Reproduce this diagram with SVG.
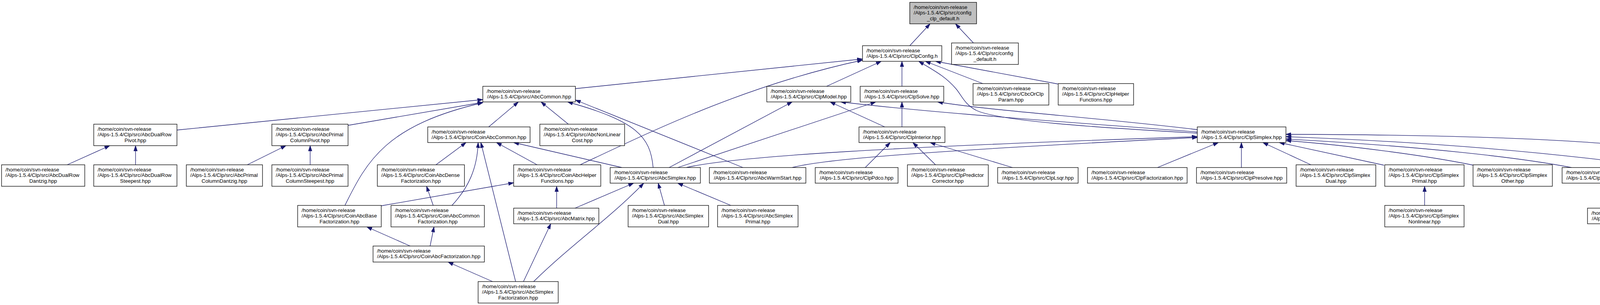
<svg xmlns="http://www.w3.org/2000/svg" width="4531" height="781" viewBox="0 0 4531 781">
<style>
.n rect{fill:#fff;stroke:#000;stroke-width:1.3}
.root rect{fill:#bfbfbf}
text{font-family:"Liberation Sans",Arial,Helvetica,sans-serif;font-size:13.3px;fill:#000}
.c{text-anchor:middle}
.e path{fill:none;stroke:#191970;stroke-width:1.3;marker-end:url(#a)}
</style>
<defs>
<marker id="a" markerUnits="userSpaceOnUse" markerWidth="14" markerHeight="10" viewBox="0 0 14 10" refX="13.5" refY="5" orient="auto"><path d="M0,0.5 L13.5,5 L0,9.5 z" fill="#191970" stroke="#191970" stroke-width="1"/></marker>
</defs>
<rect width="4531" height="781" fill="#fff"/>
<g class="e" id="edges">
<path d="M2329,117 L2381,61"/>
<path d="M2492,110 L2446,61"/>
<path d="M1473,227 L2208,151"/>
<path d="M1485,422 C1650,345 1900,220 2208,154"/>
<path d="M2116,221 L2256,157"/>
<path d="M2309,221 L2309,157"/>
<path d="M3065,341 C2800,326 2560,310 2500,283 C2470,268 2462,245 2448,228 C2420,195 2390,180 2352,157"/>
<path d="M2516,214 L2369,157"/>
<path d="M2708,215 L2395,157"/>
<path d="M453,333 L1236,255"/>
<path d="M891,321 L1236,262"/>
<path d="M883,526 C940,410 990,320 1236,263"/>
<path d="M1251,325 L1327,261"/>
<path d="M1455,318 L1385,261"/>
<path d="M1672,429 C1665,350 1630,310 1453,261"/>
<path d="M1902,429 L1473,256"/>
<path d="M1116,422 L1193,365"/>
<path d="M1157,526 C1200,480 1222,430 1224,365"/>
<path d="M1320,721 L1231,365"/>
<path d="M1375,422 L1271,365"/>
<path d="M1592,429 L1315,365"/>
<path d="M1109,526 L1092,477"/>
<path d="M976,527 L1315,468"/>
<path d="M1425,533 L1425,477"/>
<path d="M1050,630 L939,581"/>
<path d="M1101,630 L1111,581"/>
<path d="M1261,721 L1147,671"/>
<path d="M1340,721 L1410,573"/>
<path d="M1366,721 C1470,620 1560,560 1648,469"/>
<path d="M1472,533 L1622,469"/>
<path d="M1701,526 L1685,469"/>
<path d="M1871,526 L1735,469"/>
<path d="M1713,429 L2028,261"/>
<path d="M1735,429 L2242,261"/>
<path d="M1757,429 C1880,400 2300,375 3065,350"/>
<path d="M2028,429 C2100,410 2300,390 3065,352"/>
<path d="M3065,338 C2700,310 2400,290 2152,261"/>
<path d="M3065,332 C2800,300 2550,285 2400,261"/>
<path d="M2265,325 L2125,261"/>
<path d="M2309,325 L2309,261"/>
<path d="M2215,429 L2279,365"/>
<path d="M2395,422 L2337,365"/>
<path d="M2592,429 L2381,365"/>
<path d="M2963,429 L3119,365"/>
<path d="M3178,429 L3178,365"/>
<path d="M3356,422 L3233,365"/>
<path d="M3543,423 L3275,365"/>
<path d="M3772,423 C3650,398 3450,372 3292,360"/>
<path d="M4023,429 C3900,405 3650,375 3292,356"/>
<path d="M4207,423 C4000,395 3700,365 3292,350"/>
<path d="M4438,526 C4440,460 4420,420 4360,400 C4200,362 3800,345 3292,344"/>
<path d="M4402,526 L4343,477"/>
<path d="M4215,533 L4274,477"/>
<path d="M3647,526 L3647,477"/>
<path d="M172,422 L281,373"/>
<path d="M347,422 L347,373"/>
<path d="M633,422 L732,373"/>
<path d="M794,422 L794,373"/>
</g>
<g id="n0" class="n root"><rect x="2329" y="6" width="171" height="55"/><text x="2339" y="22.5">/home/coin/svn-release</text><text x="2339" y="37">/Alps-1.5.4/Clp/src/config</text><text class="c" x="2414.5" y="51.5">_clp_default.h</text></g>
<g id="n1" class="n"><rect x="2208" y="117" width="203" height="40"/><text x="2218" y="133.5">/home/coin/svn-release</text><text class="c" x="2309.5" y="148">/Alps-1.5.4/Clp/src/ClpConfig.h</text></g>
<g id="n2" class="n"><rect x="2436" y="110" width="171" height="55"/><text x="2446" y="126.5">/home/coin/svn-release</text><text x="2446" y="141">/Alps-1.5.4/Clp/src/config</text><text class="c" x="2521.5" y="155.5">_default.h</text></g>
<g id="n3" class="n"><rect x="1236" y="221" width="237" height="40"/><text x="1246" y="237.5">/home/coin/svn-release</text><text class="c" x="1354.5" y="252">/Alps-1.5.4/Clp/src/AbcCommon.hpp</text></g>
<g id="n4" class="n"><rect x="1963" y="221" width="215" height="40"/><text x="1973" y="237.5">/home/coin/svn-release</text><text class="c" x="2070.5" y="252">/Alps-1.5.4/Clp/src/ClpModel.hpp</text></g>
<g id="n5" class="n"><rect x="2202" y="221" width="214" height="40"/><text x="2212" y="237.5">/home/coin/svn-release</text><text class="c" x="2309" y="252">/Alps-1.5.4/Clp/src/ClpSolve.hpp</text></g>
<g id="n6" class="n"><rect x="2491" y="214" width="194" height="55"/><text x="2501" y="230.5">/home/coin/svn-release</text><text x="2501" y="245">/Alps-1.5.4/Clp/src/CbcOrClp</text><text class="c" x="2588" y="259.5">Param.hpp</text></g>
<g id="n7" class="n"><rect x="2709" y="214" width="193" height="55"/><text x="2719" y="230.5">/home/coin/svn-release</text><text x="2719" y="245">/Alps-1.5.4/Clp/src/ClpHelper</text><text class="c" x="2805.5" y="259.5">Functions.hpp</text></g>
<g id="n8" class="n"><rect x="240" y="318" width="213" height="55"/><text x="250" y="334.5">/home/coin/svn-release</text><text x="250" y="349">/Alps-1.5.4/Clp/src/AbcDualRow</text><text class="c" x="346.5" y="363.5">Pivot.hpp</text></g>
<g id="n9" class="n"><rect x="696" y="318" width="195" height="55"/><text x="706" y="334.5">/home/coin/svn-release</text><text x="706" y="349">/Alps-1.5.4/Clp/src/AbcPrimal</text><text class="c" x="793.5" y="363.5">ColumnPivot.hpp</text></g>
<g id="n10" class="n"><rect x="1095" y="325" width="262" height="40"/><text x="1105" y="341.5">/home/coin/svn-release</text><text class="c" x="1226" y="356">/Alps-1.5.4/Clp/src/CoinAbcCommon.hpp</text></g>
<g id="n11" class="n"><rect x="1382" y="318" width="217" height="55"/><text x="1392" y="334.5">/home/coin/svn-release</text><text x="1392" y="349">/Alps-1.5.4/Clp/src/AbcNonLinear</text><text class="c" x="1490.5" y="363.5">Cost.hpp</text></g>
<g id="n12" class="n"><rect x="2199" y="325" width="220" height="40"/><text x="2209" y="341.5">/home/coin/svn-release</text><text class="c" x="2309" y="356">/Alps-1.5.4/Clp/src/ClpInterior.hpp</text></g>
<g id="n13" class="n"><rect x="3065" y="325" width="227" height="40"/><text x="3075" y="341.5">/home/coin/svn-release</text><text class="c" x="3178.5" y="356">/Alps-1.5.4/Clp/src/ClpSimplex.hpp</text></g>
<g id="n14" class="n"><rect x="4" y="422" width="213" height="55"/><text x="14" y="438.5">/home/coin/svn-release</text><text x="14" y="453">/Alps-1.5.4/Clp/src/AbcDualRow</text><text class="c" x="110.5" y="467.5">Dantzig.hpp</text></g>
<g id="n15" class="n"><rect x="240" y="422" width="213" height="55"/><text x="250" y="438.5">/home/coin/svn-release</text><text x="250" y="453">/Alps-1.5.4/Clp/src/AbcDualRow</text><text class="c" x="346.5" y="467.5">Steepest.hpp</text></g>
<g id="n16" class="n"><rect x="477" y="422" width="195" height="55"/><text x="487" y="438.5">/home/coin/svn-release</text><text x="487" y="453">/Alps-1.5.4/Clp/src/AbcPrimal</text><text class="c" x="574.5" y="467.5">ColumnDantzig.hpp</text></g>
<g id="n17" class="n"><rect x="696" y="422" width="195" height="55"/><text x="706" y="438.5">/home/coin/svn-release</text><text x="706" y="453">/Alps-1.5.4/Clp/src/AbcPrimal</text><text class="c" x="793.5" y="467.5">ColumnSteepest.hpp</text></g>
<g id="n18" class="n"><rect x="966" y="422" width="223" height="55"/><text x="976" y="438.5">/home/coin/svn-release</text><text x="976" y="453">/Alps-1.5.4/Clp/src/CoinAbcDense</text><text class="c" x="1077.5" y="467.5">Factorization.hpp</text></g>
<g id="n19" class="n"><rect x="1315" y="422" width="223" height="55"/><text x="1325" y="438.5">/home/coin/svn-release</text><text x="1325" y="453">/Alps-1.5.4/Clp/src/CoinAbcHelper</text><text class="c" x="1426.5" y="467.5">Functions.hpp</text></g>
<g id="n20" class="n"><rect x="1562" y="429" width="231" height="40"/><text x="1572" y="445.5">/home/coin/svn-release</text><text class="c" x="1677.5" y="460">/Alps-1.5.4/Clp/src/AbcSimplex.hpp</text></g>
<g id="n21" class="n"><rect x="1816" y="429" width="247" height="40"/><text x="1826" y="445.5">/home/coin/svn-release</text><text class="c" x="1939.5" y="460">/Alps-1.5.4/Clp/src/AbcWarmStart.hpp</text></g>
<g id="n22" class="n"><rect x="2087" y="429" width="212" height="40"/><text x="2097" y="445.5">/home/coin/svn-release</text><text class="c" x="2193" y="460">/Alps-1.5.4/Clp/src/ClpPdco.hpp</text></g>
<g id="n23" class="n"><rect x="2323" y="422" width="207" height="55"/><text x="2333" y="438.5">/home/coin/svn-release</text><text x="2333" y="453">/Alps-1.5.4/Clp/src/ClpPredictor</text><text class="c" x="2426.5" y="467.5">Corrector.hpp</text></g>
<g id="n24" class="n"><rect x="2554" y="429" width="206" height="40"/><text x="2564" y="445.5">/home/coin/svn-release</text><text class="c" x="2657" y="460">/Alps-1.5.4/Clp/src/ClpLsqr.hpp</text></g>
<g id="n25" class="n"><rect x="2784" y="429" width="255" height="40"/><text x="2794" y="445.5">/home/coin/svn-release</text><text class="c" x="2911.5" y="460">/Alps-1.5.4/Clp/src/ClpFactorization.hpp</text></g>
<g id="n26" class="n"><rect x="3063" y="429" width="231" height="40"/><text x="3073" y="445.5">/home/coin/svn-release</text><text class="c" x="3178.5" y="460">/Alps-1.5.4/Clp/src/ClpPresolve.hpp</text></g>
<g id="n27" class="n"><rect x="3318" y="422" width="204" height="55"/><text x="3328" y="438.5">/home/coin/svn-release</text><text x="3328" y="453">/Alps-1.5.4/Clp/src/ClpSimplex</text><text class="c" x="3420" y="467.5">Dual.hpp</text></g>
<g id="n28" class="n"><rect x="3545" y="422" width="203" height="55"/><text x="3555" y="438.5">/home/coin/svn-release</text><text x="3555" y="453">/Alps-1.5.4/Clp/src/ClpSimplex</text><text class="c" x="3646.5" y="467.5">Primal.hpp</text></g>
<g id="n29" class="n"><rect x="3771" y="422" width="203" height="55"/><text x="3781" y="438.5">/home/coin/svn-release</text><text x="3781" y="453">/Alps-1.5.4/Clp/src/ClpSimplex</text><text class="c" x="3872.5" y="467.5">Other.hpp</text></g>
<g id="n30" class="n"><rect x="3999" y="429" width="185" height="40"/><text x="4009" y="445.5">/home/coin/svn-release</text><text class="c" x="4091.5" y="460">/Alps-1.5.4/Clp/src/Idiot.hpp</text></g>
<g id="n31" class="n"><rect x="4209" y="422" width="190" height="55"/><text x="4219" y="438.5">/home/coin/svn-release</text><text x="4219" y="453">/Alps-1.5.4/Clp/src/ClpEvent</text><text class="c" x="4304" y="467.5">Handler.hpp</text></g>
<g id="n32" class="n"><rect x="762" y="526" width="214" height="55"/><text x="772" y="542.5">/home/coin/svn-release</text><text x="772" y="557">/Alps-1.5.4/Clp/src/CoinAbcBase</text><text class="c" x="869" y="571.5">Factorization.hpp</text></g>
<g id="n33" class="n"><rect x="1001" y="526" width="239" height="55"/><text x="1011" y="542.5">/home/coin/svn-release</text><text x="1011" y="557">/Alps-1.5.4/Clp/src/CoinAbcCommon</text><text class="c" x="1120.5" y="571.5">Factorization.hpp</text></g>
<g id="n34" class="n"><rect x="1315" y="533" width="218" height="40"/><text x="1325" y="549.5">/home/coin/svn-release</text><text class="c" x="1424" y="564">/Alps-1.5.4/Clp/src/AbcMatrix.hpp</text></g>
<g id="n35" class="n"><rect x="1608" y="526" width="206" height="55"/><text x="1618" y="542.5">/home/coin/svn-release</text><text x="1618" y="557">/Alps-1.5.4/Clp/src/AbcSimplex</text><text class="c" x="1711" y="571.5">Dual.hpp</text></g>
<g id="n36" class="n"><rect x="1837" y="526" width="206" height="55"/><text x="1847" y="542.5">/home/coin/svn-release</text><text x="1847" y="557">/Alps-1.5.4/Clp/src/AbcSimplex</text><text class="c" x="1940" y="571.5">Primal.hpp</text></g>
<g id="n37" class="n"><rect x="3545" y="526" width="203" height="55"/><text x="3555" y="542.5">/home/coin/svn-release</text><text x="3555" y="557">/Alps-1.5.4/Clp/src/ClpSimplex</text><text class="c" x="3646.5" y="571.5">Nonlinear.hpp</text></g>
<g id="n38" class="n"><rect x="4064" y="533" width="258" height="40"/><text x="4074" y="549.5">/home/coin/svn-release</text><text class="c" x="4193" y="564">/Alps-1.5.4/Clp/src/MyEventHandler.hpp</text></g>
<g id="n39" class="n"><rect x="4347" y="526" width="178" height="55"/><text x="4357" y="542.5">/home/coin/svn-release</text><text x="4357" y="557">/Alps-1.5.4/Clp/src/OsiClp</text><text class="c" x="4436" y="571.5">/OsiClpSolverInterface.hpp</text></g>
<g id="n40" class="n"><rect x="955" y="630" width="285" height="41"/><text x="965" y="646.5">/home/coin/svn-release</text><text class="c" x="1097.5" y="661">/Alps-1.5.4/Clp/src/CoinAbcFactorization.hpp</text></g>
<g id="n41" class="n"><rect x="1224" y="721" width="205" height="55"/><text x="1234" y="737.5">/home/coin/svn-release</text><text x="1234" y="752">/Alps-1.5.4/Clp/src/AbcSimplex</text><text class="c" x="1326.5" y="766.5">Factorization.hpp</text></g>
</svg>
